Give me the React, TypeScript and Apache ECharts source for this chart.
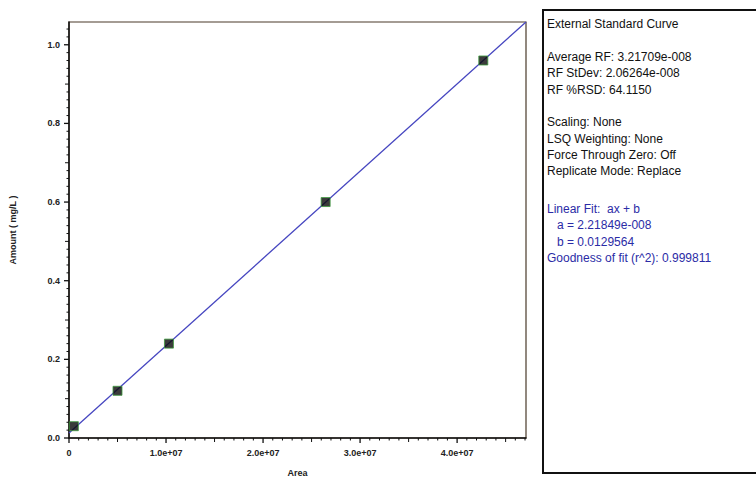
import React, { useEffect, useRef } from "react";
import * as echarts from "echarts";

// Calibration standards (Area vs Amount)
const areas = [5.0e5, 5.0e6, 1.03e7, 2.645e7, 4.27e7];
const amounts = [0.03, 0.12, 0.24, 0.6, 0.96];

// Linear fit line endpoints (from a = 2.21849e-8, b = 0.0129564)
const fitX = [0, 4.71e7];
const fitY = [0.0129564, 1.0579];

const xMax = 4.71e7;
const yMax = 1.0579;

// Tick steps
const xMajorStep = 1e7;
const xMinorStep = 1e6;
const yMajorStep = 0.2;
const yMinorStep = 0.02;

const panelTitle = "External Standard Curve";
const panelLinesBlack = [
  "Average RF: 3.21709e-008",
  "RF StDev: 2.06264e-008",
  "RF %RSD: 64.1150",
  "",
  "Scaling: None",
  "LSQ Weighting: None",
  "Force Through Zero: Off",
  "Replicate Mode: Replace",
];
const panelLinesBlue = [
  "Linear Fit:  ax + b",
  "   a = 2.21849e-008",
  "   b = 0.0129564",
  "Goodness of fit (r^2): 0.999811",
];

export default function App() {
  const ref = useRef<HTMLDivElement>(null);
  useEffect(() => {
    document.body.style.margin = "0";
    const chart = echarts.init(ref.current!, null, { renderer: "svg" });
    const font = "Liberation Sans";
    const mainLine = { show: true, onZero: false, lineStyle: { color: "#111", width: 1.5 } };

    // tick marks: [x, y, length, dir(0 = x axis, 1 = y axis)]
    const tickData: number[][] = [];
    for (let i = 0; i * xMinorStep <= xMax; i++) {
      const v = i * xMinorStep;
      const len = i % 10 === 0 ? 5 : i % 5 === 0 ? 4 : 2.5;
      tickData.push([v, 0, len, 0]);
    }
    for (let i = 0; i * yMinorStep <= yMax; i++) {
      const v = i * yMinorStep;
      const len = i % 10 === 0 ? 5 : i % 5 === 0 ? 4 : 2.5;
      tickData.push([0, v, len, 1]);
    }

    const texts: any[] = [];
    const lh = 16.3;
    const tx = 547;
    texts.push({ type: "text", x: tx, y: 24, style: { text: panelTitle, fill: "#111", font: `12px "${font}"`, textVerticalAlign: "middle" } });
    panelLinesBlack.forEach((t, i) => {
      if (!t) return;
      texts.push({ type: "text", x: tx, y: 57 + i * lh, style: { text: t, fill: "#111", font: `12px "${font}"`, textVerticalAlign: "middle" } });
    });
    panelLinesBlue.forEach((t, i) => {
      texts.push({ type: "text", x: tx, y: 209 + i * lh, style: { text: t, fill: "#2b2ba6", font: `12px "${font}"`, textVerticalAlign: "middle" } });
    });

    chart.setOption({
      animation: false,
      backgroundColor: "#fff",
      grid: {
        left: 69, top: 22, right: 230, bottom: 41,
        show: true, borderColor: "#4a3a2a", borderWidth: 1.2,
      },
      xAxis: {
        type: "value", min: 0, max: xMax, interval: xMajorStep,
        splitLine: { show: false },
        name: "Area", nameLocation: "middle", nameGap: 30,
        nameTextStyle: { fontFamily: font, fontSize: 9, fontWeight: "bold", color: "#222" },
        axisLine: mainLine,
        axisTick: { show: false },
        axisLabel: {
          show: true, showMaxLabel: false, margin: 10,
          fontFamily: font, fontSize: 9, fontWeight: "bold", color: "#222",
          formatter: (v: number) => (v === 0 ? "0" : v.toExponential(1).replace(/e\+(\d)$/, "e+0$1")),
        },
      },
      yAxis: {
        type: "value", min: 0, max: yMax, interval: yMajorStep,
        splitLine: { show: false },
        name: "Amount ( mg/L )", nameLocation: "middle", nameGap: 52,
        nameTextStyle: { fontFamily: font, fontSize: 9, fontWeight: "bold", color: "#222" },
        axisLine: mainLine,
        axisTick: { show: false },
        axisLabel: {
          show: true, showMaxLabel: false, margin: 9,
          fontFamily: font, fontSize: 9, fontWeight: "bold", color: "#222",
          formatter: (v: number) => v.toFixed(1),
        },
      },
      series: [
        {
          type: "custom",
          clip: false,
          silent: true,
          data: tickData,
          renderItem: (_params: any, api: any) => {
            const p = api.coord([api.value(0), api.value(1)]);
            const len = api.value(2);
            const dir = api.value(3);
            const shape = dir === 0
              ? { x1: p[0], y1: p[1], x2: p[0], y2: p[1] + len }
              : { x1: p[0] - len, y1: p[1], x2: p[0], y2: p[1] };
            return {
              type: "line",
              shape,
              style: { stroke: "#111", lineWidth: len >= 5 ? 1.3 : 1 },
            };
          },
          z: 1,
        },
        {
          type: "line",
          data: fitX.map((x, i) => [x, fitY[i]]),
          showSymbol: false, symbol: "none",
          lineStyle: { color: "#4646c0", width: 1.3 },
          z: 2,
        },
        {
          type: "scatter",
          data: areas.map((x, i) => [x, amounts[i]]),
          symbol: "rect", symbolSize: 9,
          itemStyle: { color: "#0a0a0a", borderColor: "#3f9a3f", borderWidth: 1 },
          z: 3,
        },
      ],
      graphic: [
        {
          type: "rect", shape: { x: 543, y: 10, width: 230, height: 463 },
          style: { fill: "#fff", stroke: "#111", lineWidth: 2 },
        },
        ...texts,
      ],
    });
    return () => chart.dispose();
  }, []);
  return <div ref={ref} style={{ position: "fixed", left: 0, top: 0, width: 756, height: 482 }} />;
}
